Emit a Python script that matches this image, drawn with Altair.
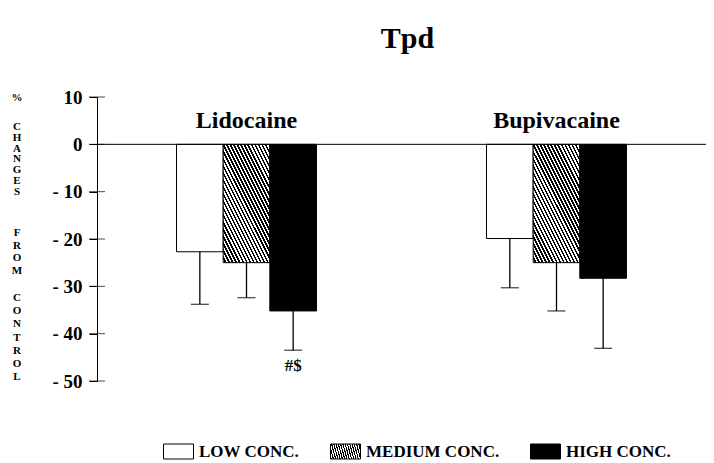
import altair as alt
import pandas as pd

# ---- data ----
drugs = ["Lidocaine", "Bupivacaine"]
concs = ["LOW CONC.", "MEDIUM CONC.", "HIGH CONC."]
mean_lido = [-22.7, -25.0, -35.2]
mean_bupi = [-19.9, -25.0, -28.3]
sd_lido = [11.1, 7.4, 8.3]
sd_bupi = [10.4, 10.2, 14.8]
sig_lido = ["", "", "#$"]
sig_bupi = ["", "", ""]
y_ticks = [10, 0, -10, -20, -30, -40, -50]
y_title_words = ["%", "CHANGES", "FROM", "CONTROL"]

df = pd.DataFrame({
    "drug": [drugs[0]] * 3 + [drugs[1]] * 3,
    "conc": concs * 2,
    "mean": mean_lido + mean_bupi,
    "sd": sd_lido + sd_bupi,
    "sig": sig_lido + sig_bupi,
})
df["lo"] = df["mean"] - df["sd"]
labels_df = pd.DataFrame({"drug": drugs})
ticks_df = pd.DataFrame({"v": y_ticks})
zero_df = pd.DataFrame({"z": [0]})

# ---- hatch pattern built as a striped linear gradient (style only) ----
N = 30
stops = []
for i in range(N):
    a, b, c = i / N, (i + 0.5) / N, (i + 1) / N
    stops += [(a, "black"), (b, "black"), (b, "white"), (c, "white")]
hatch = ("{gradient:'linear',x1:1,y1:0,x2:0.131,y2:1.103,stops:["
         + ",".join("{offset:%.4f,color:'%s'}" % s for s in stops) + "]}")

SERIF = "Liberation Serif"

x_enc = alt.X("drug:N", sort=drugs, axis=None,
              scale=alt.Scale(paddingInner=0.5484, paddingOuter=0.2565))
xo_enc = alt.XOffset("conc:N", sort=concs,
                     scale=alt.Scale(paddingInner=0, paddingOuter=0))
y_scale = alt.Scale(domain=[-50, 10], nice=False, zero=False)

y_axis = alt.Axis(
    values=y_ticks, grid=False, domainColor="black", domainWidth=1,
    tickColor="black", tickSize=8, labelColor="black", labelFont=SERIF,
    labelFontWeight="bold", labelFontSize=19, labelPadding=7,
    labelExpr="datum.value < 0 ? '- ' + abs(datum.value) : '' + datum.value",
    title=None,
)

base = alt.Chart(df)

bars = base.mark_bar(stroke="black", strokeWidth=1).encode(
    x=x_enc, xOffset=xo_enc,
    y=alt.Y("mean:Q", scale=y_scale, axis=y_axis),
    y2=alt.datum(0),
    fill=alt.Fill(
        "conc:N", sort=concs,
        scale=alt.Scale(domain=concs, range=["white", {"expr": hatch}, "black"]),
        legend=alt.Legend(
            title=None, orient="none", legendX=66, legendY=339,
            direction="horizontal", symbolType="M-1,-0.5H1V0.5H-1Z",
            symbolSize=900, symbolStrokeColor="black", symbolStrokeWidth=1,
            labelFont=SERIF, labelFontWeight="bold", labelFontSize=17,
            labelColor="black", labelOffset=5, columnPadding=28, padding=0,
            labelLimit=0,
        ),
    ),
)

err = base.mark_rule(color="black", strokeWidth=1.3).encode(
    x=x_enc, xOffset=xo_enc, y="lo:Q", y2="mean:Q")

caps = base.mark_tick(color="black", size=18, thickness=1.3,
                      orient="horizontal").encode(
    x=x_enc, xOffset=xo_enc, y="lo:Q")

sig = base.mark_text(font=SERIF, fontWeight="bold", fontSize=17,
                     baseline="top", dy=8, color="black").encode(
    x=x_enc, xOffset=xo_enc, y="lo:Q", text="sig:N")

zero = alt.Chart(zero_df).mark_rule(color="black", strokeWidth=1).encode(
    y="z:Q")

ticks = alt.Chart(ticks_df).mark_tick(color="black", size=16, thickness=1,
                                      orient="horizontal").encode(
    y="v:Q", x=alt.value(0))

group_labels = alt.Chart(labels_df).mark_text(
    font=SERIF, fontWeight="bold", fontSize=24, baseline="middle",
    color="black").encode(x=x_enc, y=alt.datum(4.9), text="drug:N")

# vertical, letter-stacked y-axis title (one text block per word)
word_layout = [(-5, 12), (24, 10.8), (130, 12.5), (195, 13.2)]  # (top, line step) px
title_layers = []
for word, (top, step) in zip(y_title_words, word_layout):
    wdf = pd.DataFrame({"t": ["\n".join(word)]})
    title_layers.append(
        alt.Chart(wdf).mark_text(
            font=SERIF, fontWeight="bold", fontSize=11, lineBreak="\n",
            lineHeight=step, align="center", baseline="top",
            color="black").encode(x=alt.value(-80), y=alt.value(top), text="t:N")
    )

chart = alt.layer(bars, err, caps, sig, zero, ticks, group_labels,
                  *title_layers).properties(
    width=609, height=284,
    title=alt.TitleParams("Tpd", font=SERIF, fontSize=30, fontWeight="bold",
                          color="black", anchor="middle", baseline="bottom",
                          offset=4, dx=6),
    autosize=alt.AutoSizeParams(type="none"),
    padding={"left": 89, "top": 89, "right": 0, "bottom": 85},
).configure_view(stroke=None)

chart.save("out.html", embed_options={"renderer": "svg", "actions": False})
